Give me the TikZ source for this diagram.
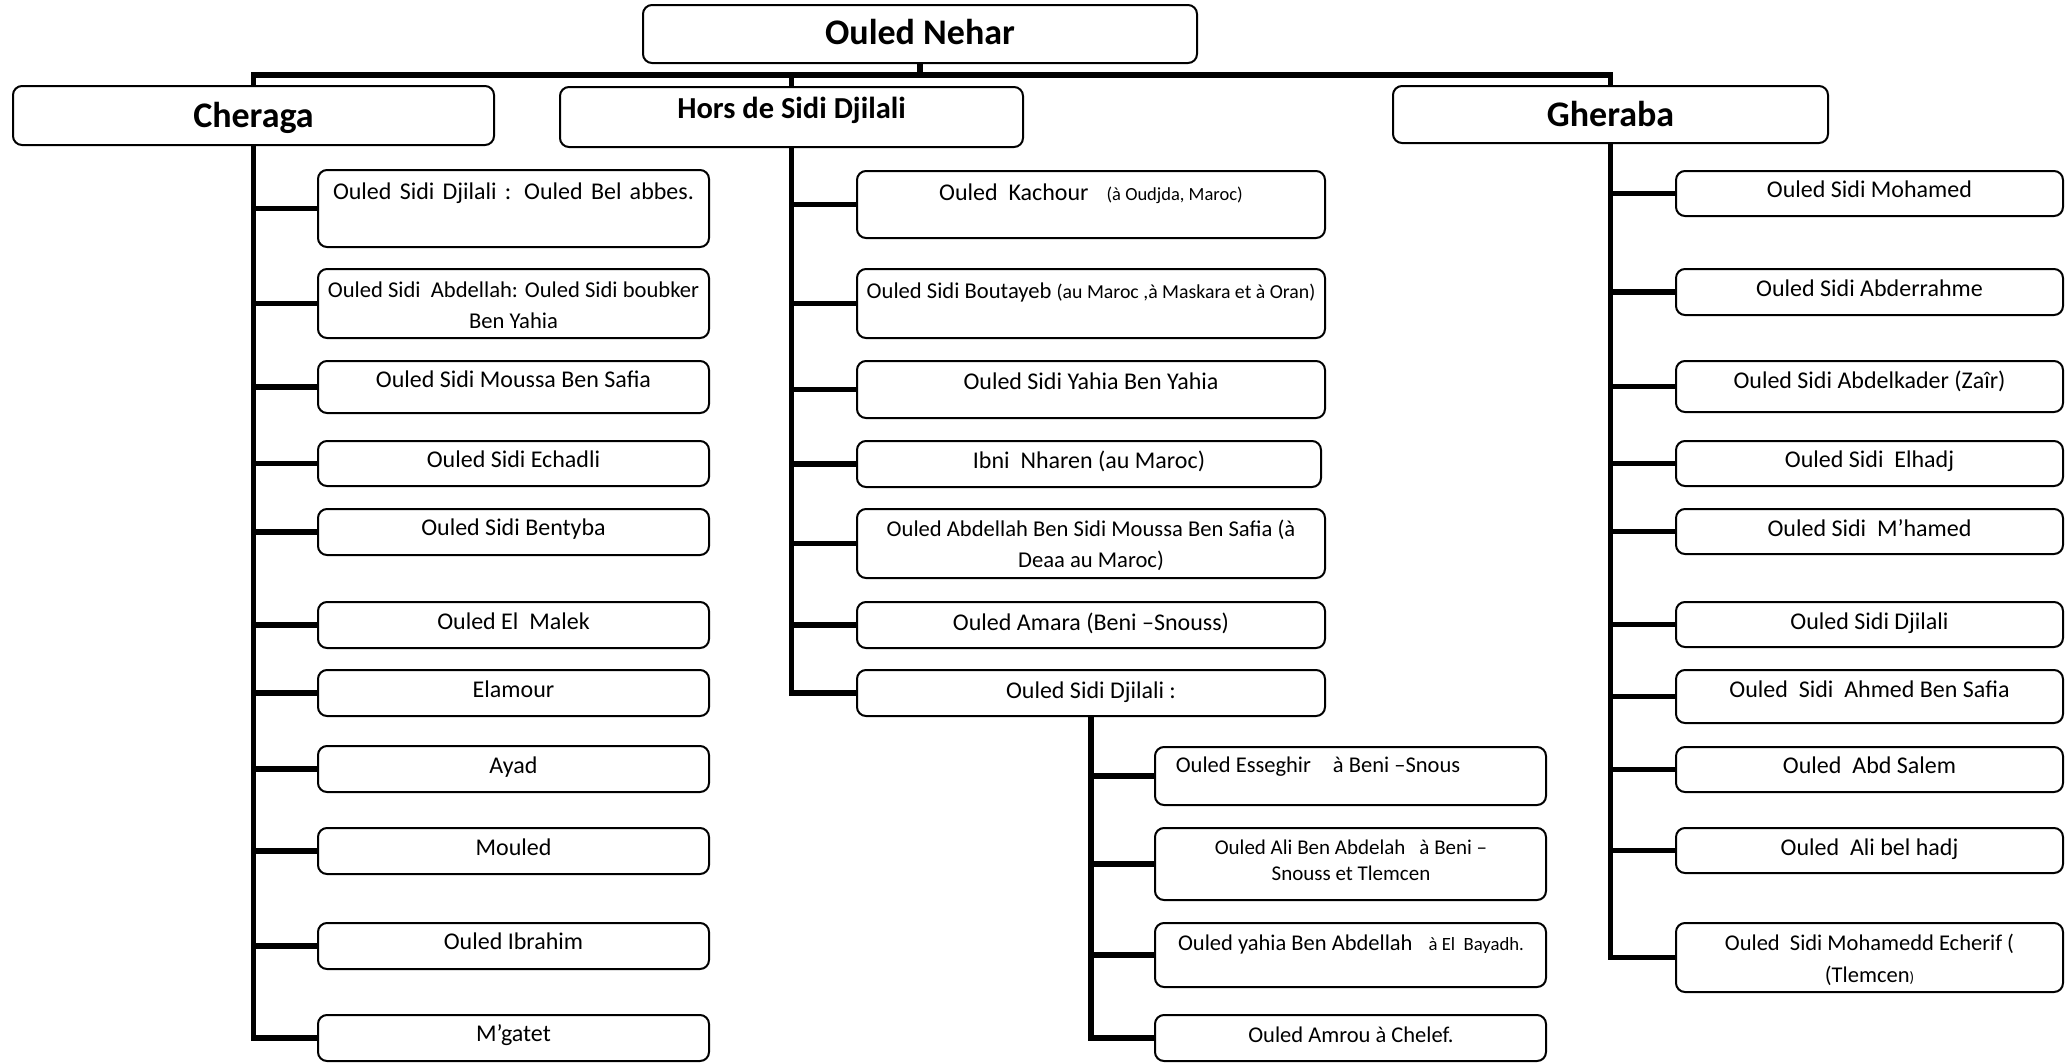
\documentclass[tikz,border=0pt]{standalone}
\usepackage{fontspec}
\setmainfont{Carlito}
\newcommand\mkbox[5]{%
  \pgfmathsetmacro\bxw{#4-#2}%
  \pgfmathsetmacro\bxh{#5-#3}%
  \pgfmathsetmacro\bxcx{(#2+#4)/2}%
  \pgfmathsetmacro\bxcy{(#3+#5)/2}%
  \node[boxst, minimum width=\bxw pt, minimum height=\bxh pt] (#1) at (\bxcx,\bxcy) {};}
\newcommand\twoline[2]{\vtop{\halign{\hfil##\hfil\cr #1\cr #2\cr}}}
\tikzset{
  boxst/.style={draw, line width=2pt, rounded corners=9pt, inner sep=0pt, fill=white},
  conn/.style={line width=5.6pt},
  txt/.style={inner sep=0pt, anchor=base},
  nrm/.style={font=\fontsize{24}{30}\selectfont},
  nrs/.style={font=\fontsize{22.6}{31}\selectfont},
  hdr/.style={font=\fontsize{36}{40}\selectfont\bfseries}
}
\begin{document}
\begin{tikzpicture}[x=1pt,y=-1pt]
\useasboundingbox (0,0) rectangle (2065,1063);
% level 0 and 1
\mkbox{neh}{643}{5}{1197}{63}
\mkbox{cher}{13}{86}{494}{145}
\mkbox{hors}{560}{87}{1023}{147}
\mkbox{ghe}{1393}{86}{1828}{143}
\node[txt,hdr] (nehT) at (920,44) {Ouled Nehar};
\node[txt,hdr] (cherT) at (253.5,127) {Cheraga};
\node[txt,font=\fontsize{30.5}{34}\selectfont\bfseries] (horsT) at (791.5,118) {Hors de Sidi Djilali};
\node[txt,hdr] (gheT) at (1610.5,126) {Gheraba};
% Cheraga children
\mkbox{c1}{318}{170}{709}{247}
\mkbox{c2}{318}{269}{709}{338}
\mkbox{c3}{318}{361}{709}{413}
\mkbox{c4}{318}{441}{709}{486}
\mkbox{c5}{318}{509}{709}{555}
\mkbox{c6}{318}{602}{709}{648}
\mkbox{c7}{318}{670}{709}{716}
\mkbox{c8}{318}{746}{709}{792}
\mkbox{c9}{318}{828}{709}{874}
\mkbox{c10}{318}{923}{709}{969}
\mkbox{c11}{318}{1015}{709}{1061}
\node[txt,nrm] (c1t) at (513.5,199) {\makebox[361pt][s]{Ouled Sidi Djilali : Ouled Bel abbes.}};
\node[txt,nrs] (c2t) at (513.5,297) {\twoline{Ouled Sidi~ Abdellah: Ouled Sidi boubker}{Ben Yahia}};
\node[txt,nrm] (c3t) at (513.5,387) {Ouled Sidi Moussa Ben Safia};
\node[txt,nrm] (c4t) at (513.5,467) {Ouled Sidi Echadli};
\node[txt,nrm] (c5t) at (513.5,535) {Ouled Sidi Bentyba};
\node[txt,nrm] (c6t) at (513.5,629) {Ouled El~ Malek};
\node[txt,nrm] (c7t) at (513.5,697) {Elamour};
\node[txt,nrm] (c8t) at (513.5,773) {Ayad};
\node[txt,nrm] (c9t) at (513.5,855) {Mouled};
\node[txt,nrm] (c10t) at (513.5,949) {Ouled Ibrahim};
\node[txt,nrm] (c11t) at (513.5,1041) {M’gatet};
% Hors children
\mkbox{k1}{857}{171}{1325}{238}
\mkbox{k2}{857}{269}{1325}{338}
\mkbox{k3}{857}{361}{1325}{418}
\mkbox{k4}{857}{441}{1321}{487}
\mkbox{k5}{857}{509}{1325}{578}
\mkbox{k6}{857}{602}{1325}{648}
\mkbox{k7}{857}{670}{1325}{716}
\node[txt,nrm] (k1t) at (1091,200) {Ouled~ Kachour\hspace{18pt}{\fontsize{18.5}{22}\selectfont(à Oudjda, Maroc)}};
\node[txt,nrs] (k2t) at (1091,298) {Ouled Sidi Boutayeb {\fontsize{19.8}{24}\selectfont(au Maroc ,à Maskara et à Oran)}};
\node[txt,nrm] (k3t) at (1091,389) {Ouled Sidi Yahia Ben Yahia};
\node[txt,nrm] (k4t) at (1089,468) {Ibni~ Nharen (au Maroc)};
\node[txt,nrs] (k5t) at (1091,536) {\twoline{Ouled Abdellah Ben Sidi Moussa Ben Safia (à}{Deaa au Maroc)}};
\node[txt,nrm] (k6t) at (1091,630) {Ouled Amara (Beni –Snouss)};
\node[txt,nrm] (k7t) at (1091,698) {Ouled Sidi Djilali :};
% Sidi Djilali sub-children
\mkbox{s1}{1155}{747}{1546}{805}
\mkbox{s2}{1155}{828}{1546}{900}
\mkbox{s3}{1155}{923}{1546}{987}
\mkbox{s4}{1155}{1015}{1546}{1061}
\node[txt,font=\fontsize{22.5}{28}\selectfont] (s1t) at (1318,772) {Ouled Esseghir\hspace{22pt}à Beni –Snous};
\node[txt,font=\fontsize{21}{26}\selectfont] (s2t) at (1351,854) {\twoline{Ouled Ali Ben Abdelah\hspace{14pt}à Beni –}{Snouss et Tlemcen}};
\node[txt,font=\fontsize{22.5}{28}\selectfont] (s3t) at (1351,950) {Ouled yahia Ben Abdellah\hspace{16pt}{\fontsize{18.7}{22}\selectfont à El~ Bayadh.}};
\node[txt,font=\fontsize{22.5}{28}\selectfont] (s4t) at (1351,1042) {Ouled Amrou à Chelef.};
% Gheraba children
\mkbox{g1}{1676}{171}{2063}{216}
\mkbox{g2}{1676}{269}{2063}{315}
\mkbox{g3}{1676}{361}{2063}{412}
\mkbox{g4}{1676}{441}{2063}{486}
\mkbox{g5}{1676}{509}{2063}{554}
\mkbox{g6}{1676}{602}{2063}{647}
\mkbox{g7}{1676}{670}{2063}{723}
\mkbox{g8}{1676}{747}{2063}{792}
\mkbox{g9}{1676}{828}{2063}{873}
\mkbox{g10}{1676}{923}{2063}{992}
\node[txt,nrm] (g1t) at (1869.5,197) {Ouled Sidi Mohamed};
\node[txt,nrm] (g2t) at (1869.5,296) {Ouled Sidi Abderrahme};
\node[txt,nrm] (g3t) at (1869.5,388) {Ouled Sidi Abdelkader (Zaîr)};
\node[txt,nrm] (g4t) at (1869.5,467) {Ouled Sidi~ Elhadj};
\node[txt,nrm] (g5t) at (1869.5,536) {Ouled Sidi~ M’hamed};
\node[txt,nrm] (g6t) at (1869.5,629) {Ouled Sidi Djilali};
\node[txt,nrm] (g7t) at (1869.5,697) {Ouled~ Sidi~ Ahmed Ben Safia};
\node[txt,nrm] (g8t) at (1869.5,773) {Ouled~ Abd Salem};
\node[txt,nrm] (g9t) at (1869.5,855) {Ouled~ Ali bel hadj};
\node[txt,font=\fontsize{22.5}{32}\selectfont] (g10t) at (1869.5,950) {\twoline{Ouled~ Sidi Mohamedd Echerif (}{(Tlemcen{\fontsize{15}{18}\selectfont)}}};
% connectors
\coordinate (bus) at (0,75);
\draw[conn] (neh.south) -- (neh.south |- bus) -| (cher.north);
\draw[conn] (neh.south |- bus) -| (hors.north);
\draw[conn] (neh.south |- bus) -| (ghe.north);
\foreach \n in {c1,c2,c3,c4,c5,c6,c7,c8,c9,c10,c11} \draw[conn] (cher.south) |- (\n.west);
\foreach \n in {k1,k2,k3,k4,k5,k6,k7} \draw[conn] (hors.south) |- (\n.west);
\foreach \n in {s1,s2,s3,s4} \draw[conn] (k7.south) |- (\n.west);
\foreach \n in {g1,g2,g3,g4,g5,g6,g7,g8,g9,g10} \draw[conn] (ghe.south) |- (\n.west);
\end{tikzpicture}
\end{document}
